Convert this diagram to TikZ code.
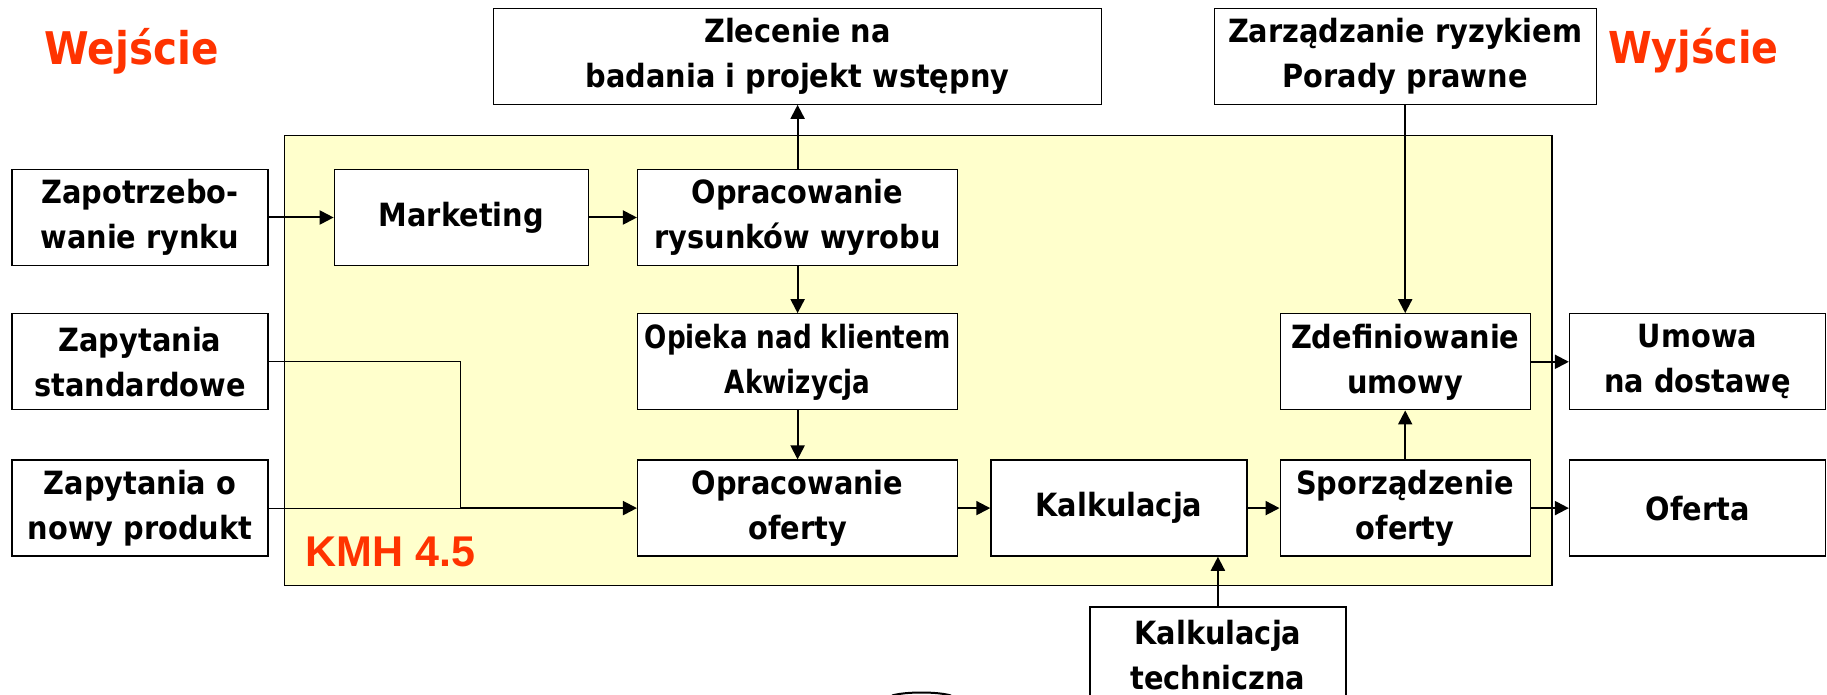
\documentclass[tikz,border=0pt]{standalone}
\usepackage{fontspec}
\newfontfamily\boxfont{DejaVu Sans Condensed}
\newfontfamily\boxfontnarrow{DejaVu Sans Condensed}[FakeStretch=0.91]
\newfontfamily\kmhfont{Liberation Sans}
\usetikzlibrary{positioning}
\usetikzlibrary{arrows.meta}
\usetikzlibrary{fit}
\usetikzlibrary{backgrounds}
\definecolor{kmhred}{HTML}{FF3300}
\definecolor{kmhyellow}{HTML}{FFFFCC}
\tikzset{
  stage/.style={rectangle, draw=black, line width=0.65pt, fill=white, minimum height=48pt, inner xsep=1pt, inner ysep=2pt, align=center, font=\boxfont\bfseries\fontsize{16}{22.5}\selectfont},
  flow/.style={-{Triangle[length=7pt,width=7pt]}, line width=1pt},
  feed/.style={line width=0.6pt}
}

\begin{document}
\begin{tikzpicture}[x=0.5pt, y=-0.5pt]
    \useasboundingbox (0,0) rectangle (1827,695);

    \node (zap) [stage, minimum width=128pt] at (140,217.5) {Zapotrzebo-\\wanie rynku};
    \node (marketing) [stage, minimum width=127pt, right=32.5pt of zap] {Marketing};
    \node (rys) [stage, minimum width=160pt, right=24pt of marketing] {Opracowanie\\rysunków wyrobu};
    \node (zlecenie) [stage, minimum width=304pt, above=32pt of rys] {Zlecenie na\\badania i projekt wstępny};

    \node (std) [stage, minimum width=128pt, below=23.5pt of zap] {Zapytania\\standardowe};
    \node (opieka) [stage, minimum width=160pt, below=23.5pt of rys, font=\boxfontnarrow\bfseries\fontsize{16}{22.5}\selectfont] {Opieka nad klientem\\Akwizycja};

    \node (nowy) [stage, minimum width=128pt, below=24.5pt of std] {Zapytania o\\nowy produkt};
    \node (oprof) [stage, minimum width=160pt, below=24.5pt of opieka] {Opracowanie\\oferty};
    \node (kalk) [stage, minimum width=128pt, right=16pt of oprof] {Kalkulacja};
    \node (sporz) [stage, minimum width=125pt, right=16pt of kalk] {Sporządzenie\\oferty};
    \node (oferta) [stage, minimum width=128pt, right=19pt of sporz] {Oferta};

    \node (zdef) [stage, minimum width=125pt, above=24.5pt of sporz] {Zdefiniowanie\\umowy};
    \node (umowa) [stage, minimum width=128pt, right=19pt of zdef] {Umowa\\na dostawę};
    \node (zarz) [stage, minimum width=191pt] at (zlecenie -| zdef) {Zarządzanie ryzykiem\\Porady prawne};

    \node (kalktech) [stage, minimum width=128pt, below right=24.75pt and 49.5pt of kalk.south west] {Kalkulacja\\techniczna};

    \begin{scope}[on background layer]
        \node (kmh) [fit={([xshift=-24.5pt,yshift=16.5pt]marketing.north west) ([xshift=10.5pt,yshift=-14.5pt]sporz.south east)}, inner sep=0pt, draw=black, line width=0.65pt, fill=kmhyellow] {};
    \end{scope}

    \node (kmhlabel) [above right=9.8pt and 10.5pt of kmh.south west, anchor=base west, inner sep=0pt, text=kmhred, font=\kmhfont\bfseries\fontsize{21.5}{25}\selectfont] {KMH 4.5};
    \node (wejscie) [above right=52pt and 16.5pt of zap.north west, anchor=base west, inner sep=0pt, text=kmhred, font=\boxfont\bfseries\fontsize{22.5}{26}\selectfont] {Wejście};
    \node (wyjscie) [below right=27.8pt and 5.5pt of zarz.north east, anchor=base west, inner sep=0pt, text=kmhred, font=\boxfont\bfseries\fontsize{22}{26}\selectfont] {Wyjście};

    \draw [flow] (zap) -- (marketing);
    \draw [flow] (marketing) -- (rys);
    \draw [flow] (rys) -- (zlecenie);
    \draw [flow] (rys) -- (opieka);
    \draw [flow] (opieka) -- (oprof);
    \draw [flow] (oprof) -- (kalk);
    \draw [flow] (kalk) -- (sporz);
    \draw [flow] (sporz) -- (oferta);
    \draw [flow] (sporz) -- (zdef);
    \draw [flow] (zdef) -- (umowa);
    \draw [flow] (zarz) -- (zdef);
    \draw [flow] (kalktech) -- (kalktech |- kalk.south);

    \coordinate (join) at ([xshift=96pt]nowy.east);
    \draw [feed] (std) -| (join);
    \draw [feed] (nowy) -- (join);
    \draw [flow] (join) -- (oprof);

    % cut-off shape at the lower edge
    \draw [line width=1pt] (892,695.5) .. controls (906,691.5) and (937,691.5) .. (951,695.5);
\end{tikzpicture}
\end{document}
